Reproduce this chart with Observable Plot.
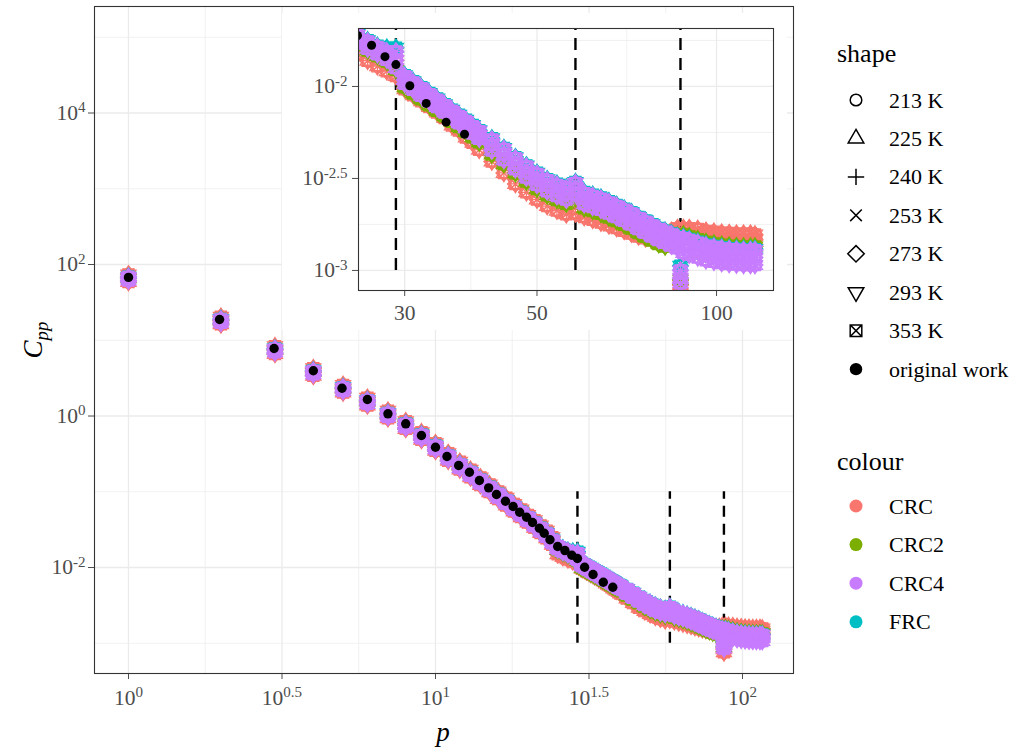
<!DOCTYPE html>
<html>
<head>
<meta charset="utf-8">
<script src="https://cdn.jsdelivr.net/npm/d3@7"></script>
<script src="https://cdn.jsdelivr.net/npm/@observablehq/plot@0.6"></script>
<style>
  html, body { margin: 0; padding: 0; background: #fff; }
  #wrap { position: relative; width: 1028px; height: 751px; overflow: hidden; background: #fff; }
  #main, #inset, #legend { position: absolute; }
  #main { left: 0; top: 0; }
  #inset { left: 282px; top: 13px; }
  #legend { left: 800px; top: 0; }
</style>
</head>
<body>
<div id="wrap"><div id="main"></div><div id="inset"></div><div id="legend"></div></div>
<script>
// ---------------- data (C_pp stored as log10 values) ----------------
const p = [1,2,3,4,5,6,7,8,9,10,11,12,13,14,15,16,17,18,19,20,21,22,23,24,25,26,27,28,29,30,31,32,33,34,35,36,37,38,39,40,42,44,46,48,50,52,54,56,58,60,62,64,66,68,70,72,74,76,78,80,82,84,86,87,88,90,93,96,99,102,105,108,111,114,116];

// CRC4 (upper edge / middle / lower edge of the band)
const logCrc4Hi = [1.835,1.275,0.885,0.595,0.375,0.205,0.035,-0.105,-0.25,-0.395,-0.525,-0.64,-0.745,-0.845,-0.94,-1.03,-1.115,-1.195,-1.27,-1.34,-1.41,-1.48,-1.55,-1.635,
  -1.72,-1.755,-1.785,-1.81,-1.81,-1.945,-1.978,-2.01,-2.042,-2.072,-2.102,-2.132,-2.16,-2.187,-2.216,-2.244,
  -2.288,-2.34,-2.39,-2.435,-2.475,-2.51,-2.535,-2.555,-2.525,-2.58,-2.595,-2.61,-2.63,-2.65,-2.67,-2.69,-2.715,-2.735,-2.755,-2.775,-2.79,-2.805,-2.82,
  -3.0,
  -2.825,-2.835,-2.85,-2.865,-2.873,-2.88,-2.885,-2.888,-2.89,-2.89,-2.89];
const logCrc4Mid = [1.82,1.26,0.87,0.58,0.36,0.19,0.02,-0.12,-0.265,-0.41,-0.54,-0.655,-0.76,-0.86,-0.955,-1.045,-1.13,-1.21,-1.285,-1.355,-1.425,-1.495,-1.565,-1.65,
  -1.74,-1.775,-1.805,-1.832,-1.858,-1.965,-1.998,-2.03,-2.062,-2.092,-2.122,-2.152,-2.18,-2.207,-2.236,-2.264,
  -2.318,-2.37,-2.42,-2.465,-2.505,-2.54,-2.565,-2.585,-2.555,-2.61,-2.625,-2.64,-2.66,-2.68,-2.7,-2.72,-2.745,-2.765,-2.785,-2.805,-2.82,-2.835,-2.85,
  -3.04,
  -2.865,-2.875,-2.89,-2.905,-2.913,-2.92,-2.925,-2.928,-2.93,-2.93,-2.93];
const logCrc4Lo = [1.79,1.23,0.84,0.55,0.33,0.16,-0.01,-0.15,-0.295,-0.44,-0.57,-0.685,-0.79,-0.89,-0.985,-1.075,-1.16,-1.24,-1.315,-1.385,-1.455,-1.525,-1.595,-1.68,
  -1.76,-1.795,-1.825,-1.855,-1.9,-1.985,-2.018,-2.05,-2.082,-2.112,-2.142,-2.172,-2.2,-2.227,-2.256,-2.284,
  -2.348,-2.4,-2.45,-2.495,-2.535,-2.57,-2.595,-2.615,-2.585,-2.64,-2.655,-2.67,-2.69,-2.71,-2.73,-2.75,-2.775,-2.795,-2.815,-2.835,-2.85,-2.865,-2.88,
  -3.07,
  -2.905,-2.915,-2.93,-2.945,-2.953,-2.96,-2.965,-2.968,-2.97,-2.97,-2.97];
// FRC
const logFrc = [1.84,1.28,0.89,0.6,0.38,0.21,0.04,-0.1,-0.245,-0.39,-0.52,-0.635,-0.74,-0.84,-0.935,-1.025,-1.11,-1.19,-1.265,-1.335,-1.405,-1.475,-1.545,-1.63,
  -1.714,-1.749,-1.779,-1.79,-1.79,-1.939,-1.972,-2.004,-2.036,-2.066,-2.096,-2.126,-2.154,-2.181,-2.21,-2.238,
  -2.282,-2.334,-2.384,-2.429,-2.469,-2.504,-2.529,-2.549,-2.519,-2.574,-2.589,-2.604,-2.624,-2.644,-2.664,-2.684,-2.709,-2.729,-2.749,-2.769,-2.784,-2.799,-2.814,
  -2.975,
  -2.819,-2.829,-2.844,-2.859,-2.867,-2.874,-2.879,-2.882,-2.884,-2.884,-2.884];
// CRC2
const logCrc2 = [1.82,1.26,0.87,0.58,0.36,0.19,0.02,-0.12,-0.265,-0.41,-0.54,-0.655,-0.76,-0.86,-0.955,-1.045,-1.13,-1.21,-1.285,-1.355,-1.425,-1.495,-1.565,-1.65,
  -1.77,-1.805,-1.835,-1.865,-1.91,-2.005,-2.038,-2.07,-2.102,-2.132,-2.162,-2.192,-2.22,-2.247,-2.276,-2.304,
  -2.37,-2.422,-2.472,-2.517,-2.557,-2.592,-2.617,-2.637,-2.607,-2.662,-2.677,-2.692,-2.712,-2.732,-2.752,-2.772,-2.797,-2.817,-2.837,-2.857,-2.87,-2.84,-2.81,
  -3.05,
  -2.805,-2.815,-2.83,-2.845,-2.853,-2.86,-2.865,-2.868,-2.87,-2.87,-2.87];
// CRC (upper / lower edge)
const logCrcHi = [1.87,1.31,0.92,0.63,0.41,0.24,0.07,-0.07,-0.215,-0.36,-0.49,-0.605,-0.71,-0.81,-0.905,-0.995,-1.08,-1.16,-1.235,-1.305,-1.375,-1.445,-1.515,-1.6,
  -1.74,-1.775,-1.805,-1.832,-1.858,-1.965,-1.998,-2.03,-2.062,-2.092,-2.122,-2.152,-2.18,-2.207,-2.236,-2.264,
  -2.318,-2.37,-2.42,-2.465,-2.505,-2.54,-2.565,-2.585,-2.555,-2.61,-2.625,-2.64,-2.66,-2.68,-2.7,-2.72,-2.745,-2.765,-2.785,-2.805,-2.8,-2.785,-2.77,
  -3.08,
  -2.77,-2.77,-2.775,-2.785,-2.79,-2.795,-2.797,-2.8,-2.8,-2.8,-2.805];
const logCrcLo = [1.77,1.21,0.82,0.53,0.31,0.14,-0.03,-0.17,-0.315,-0.46,-0.59,-0.705,-0.81,-0.91,-1.005,-1.095,-1.18,-1.26,-1.335,-1.405,-1.475,-1.545,-1.615,-1.7,
  -1.825,-1.86,-1.89,-1.917,-1.943,-2.015,-2.048,-2.08,-2.112,-2.142,-2.172,-2.212,-2.24,-2.277,-2.306,-2.344,
  -2.408,-2.47,-2.53,-2.575,-2.615,-2.65,-2.675,-2.695,-2.69,-2.71,-2.725,-2.74,-2.755,-2.77,-2.785,-2.8,-2.815,-2.825,-2.835,-2.845,-2.84,-2.835,-2.82,
  -3.12,
  -2.8,-2.8,-2.805,-2.815,-2.82,-2.825,-2.828,-2.83,-2.83,-2.83,-2.835];

// original work
const origP = [1,1.98,2.98,4,4.96,6,7,8,9,10,10.9,11.9,12.9,13.9,14.9,15.8,16.9,17.9,18.8,19.8,20.7,21.8,22.6,23.6,25,26.4,27.8,29,30.6,32.6,35.2,37.8];
const origLogC = [1.83,1.274,0.891,0.597,0.367,0.218,0.029,-0.103,-0.257,-0.412,-0.535,-0.653,-0.742,-0.851,-0.948,-1.036,-1.125,-1.195,-1.27,-1.336,-1.406,-1.481,-1.547,-1.634,-1.723,-1.776,-1.838,-1.881,-1.996,-2.092,-2.194,-2.26];

// dashed markers
const dashP = [29, 58, 87];
const dashLogC = [-3, -1];

// categories
const seriesNames = ["CRC", "CRC2", "CRC4", "FRC"];
const seriesColours = ["#F8766D", "#7CAE00", "#C77CFF", "#00BFC4"];
const tempLabels = ["213 K", "225 K", "240 K", "253 K", "273 K", "293 K", "353 K"];

// ticks
const xMajor = [1, 3.16228, 10, 31.6228, 100];
const xMajorExp = ["0", "0.5", "1", "1.5", "2"];
const xMinor = [1.77828, 5.62341, 17.7828, 56.2341];
const yMajor = [-2, 0, 2, 4];
const yMinor = [-3, -1, 1, 3, 5];
const inXMajor = [30, 50, 100];
const inXMinor = [38.7298, 70.7107];
const inYMajor = [-3, -2.5, -2];
const inYMinor = [-2.75, -2.25, -1.75];

// ---------------- symbols (ggplot shapes 1..7) ----------------
function mk(fn) { return {draw(c, size) { fn(c, Math.sqrt(size / Math.PI)); }}; }
const shapeSymbols = [
  mk((c, r) => { c.moveTo(r, 0); c.arc(0, 0, r, 0, 2 * Math.PI); }),
  mk((c, r) => { c.moveTo(0, -1.555 * r); c.lineTo(1.347 * r, 0.778 * r); c.lineTo(-1.347 * r, 0.778 * r); c.closePath(); }),
  mk((c, r) => { const a = 1.414 * r; c.moveTo(-a, 0); c.lineTo(a, 0); c.moveTo(0, -a); c.lineTo(0, a); }),
  mk((c, r) => { c.moveTo(-r, -r); c.lineTo(r, r); c.moveTo(-r, r); c.lineTo(r, -r); }),
  mk((c, r) => { const a = 1.414 * r; c.moveTo(0, -a); c.lineTo(a, 0); c.lineTo(0, a); c.lineTo(-a, 0); c.closePath(); }),
  mk((c, r) => { c.moveTo(0, 1.555 * r); c.lineTo(1.347 * r, -0.778 * r); c.lineTo(-1.347 * r, -0.778 * r); c.closePath(); }),
  mk((c, r) => { c.rect(-r, -r, 2 * r, 2 * r); c.moveTo(-r, -r); c.lineTo(r, r); c.moveTo(-r, r); c.lineTo(r, -r); })
];

const FONT = "'Liberation Serif', 'Times New Roman', serif";
const R = 5.6;

const seriesDefs = [
  {series: "CRC", levels: [logCrcHi, logCrcLo]},
  {series: "CRC2", levels: [logCrc2]},
  {series: "FRC", levels: [logFrc]},
  {series: "CRC4", levels: [logCrc4Hi, logCrc4Lo, logCrc4Mid]}
];

function dotMarks(minP, extra) {
  const marks = [];
  for (const s of seriesDefs) for (const lvl of s.levels) {
    const rows = p.map((pv, i) => ({p: pv, logC: lvl[i], series: s.series})).filter(d => d.p >= minP);
    shapeSymbols.forEach((sym) => {
      marks.push(Plot.dot(rows, {x: "p", y: "logC", stroke: "series", fill: "none", symbol: sym, r: R, strokeWidth: 1.25, ...extra}));
    });
  }
  return marks;
}
const origRows = origP.map((pv, i) => ({p: pv, logC: origLogC[i]}));

function supify(svg) {
  d3.select(svg).selectAll("text").each(function () {
    const m = /^10\^(.+)$/.exec(this.textContent);
    if (!m) return;
    const sel = d3.select(this);
    sel.text(null);
    sel.append("tspan").text("10");
    sel.append("tspan").attr("dy", "-0.52em").attr("font-size", "0.7em").text(m[1]);
  });
}

// ---------------- main plot ----------------
const main = Plot.plot({
  width: 1028, height: 751,
  marginLeft: 94, marginRight: 235, marginTop: 6, marginBottom: 78,
  style: {fontFamily: FONT, fontSize: "21.5px", color: "#4D4D4D", background: "white"},
  x: {type: "log", domain: [0.775, 146.6], ticks: xMajor, tickFormat: d => "10^" + xMajorExp[xMajor.indexOf(d)], tickSize: 6, tickPadding: 10, label: null},
  y: {domain: [-3.399, 5.406], ticks: yMajor, tickFormat: d => "10^" + d, tickSize: 6, tickPadding: 3, label: null},
  color: {domain: seriesNames, range: seriesColours},
  marks: [
    Plot.ruleX(xMinor, {stroke: "#EBEBEB", strokeWidth: 0.7}),
    Plot.ruleY(yMinor, {stroke: "#EBEBEB", strokeWidth: 0.7}),
    Plot.ruleX(xMajor, {stroke: "#EBEBEB", strokeWidth: 1.3}),
    Plot.ruleY(yMajor, {stroke: "#EBEBEB", strokeWidth: 1.3}),
    Plot.ruleX(dashP, {y1: dashLogC[0], y2: dashLogC[1], stroke: "black", strokeWidth: 2.4, strokeDasharray: "11,7"}),
    ...dotMarks(0, {}),
    Plot.dot(origRows, {x: "p", y: "logC", r: 4.7, fill: "black", stroke: "none"}),
    Plot.frame({stroke: "#333333", strokeWidth: 1.1})
  ]
});
document.getElementById("main").appendChild(main);
supify(main);
const ms = d3.select(main);
ms.append("text").attr("x", 443).attr("y", 741).attr("text-anchor", "middle")
  .attr("font-family", FONT).attr("font-size", 27).attr("font-style", "italic").attr("fill", "black").text("p");
const yt = ms.append("text").attr("transform", "translate(42,340) rotate(-90)").attr("text-anchor", "middle")
  .attr("font-family", FONT).attr("font-size", 27).attr("font-style", "italic").attr("fill", "black");
yt.append("tspan").text("C");
yt.append("tspan").attr("dy", "0.3em").attr("font-size", "0.7em").text("pp");

// ---------------- inset ----------------
const inset = Plot.plot({
  width: 505, height: 317,
  marginLeft: 76, marginRight: 14, marginTop: 15, marginBottom: 40,
  style: {fontFamily: FONT, fontSize: "21.5px", color: "#4D4D4D", background: "white"},
  x: {type: "log", domain: [25.1, 124.6], ticks: inXMajor, tickFormat: d => String(d), tickSize: 6, tickPadding: 8, label: null},
  y: {domain: [-3.109, -1.685], ticks: inYMajor, tickFormat: d => "10^" + d, tickSize: 6, tickPadding: 5, label: null},
  color: {domain: seriesNames, range: seriesColours},
  marks: [
    Plot.ruleX(inXMinor, {stroke: "#EBEBEB", strokeWidth: 0.7}),
    Plot.ruleY(inYMinor, {stroke: "#EBEBEB", strokeWidth: 0.7}),
    Plot.ruleX(inXMajor, {stroke: "#EBEBEB", strokeWidth: 1.3}),
    Plot.ruleY(inYMajor, {stroke: "#EBEBEB", strokeWidth: 1.3}),
    Plot.ruleX(dashP, {y1: dashLogC[0], y2: dashLogC[1], stroke: "black", strokeWidth: 2.4, strokeDasharray: "12,8", clip: true}),
    ...dotMarks(24, {clip: true}),
    Plot.dot(origRows.filter(d => d.p >= 24), {x: "p", y: "logC", r: 4.5, fill: "black", stroke: "none", clip: true}),
    Plot.frame({stroke: "#333333", strokeWidth: 1.1})
  ]
});
document.getElementById("inset").appendChild(inset);
supify(inset);

// ---------------- legend ----------------
const lg = d3.select("#legend").append("svg").attr("width", 228).attr("height", 751)
  .attr("font-family", FONT);
lg.append("text").attr("x", 37).attr("y", 62).attr("font-size", 26).attr("fill", "black").text("shape");
const shapeLabels = tempLabels.concat(["original work"]);
shapeLabels.forEach((t, i) => {
  const cy = 100 + i * 38.45;
  if (i < shapeSymbols.length) {
    const ctx = d3.path();
    shapeSymbols[i].draw(ctx, Math.PI * 5.8 * 5.8);
    lg.append("path").attr("d", ctx.toString()).attr("transform", `translate(56,${cy})`)
      .attr("fill", "none").attr("stroke", "black").attr("stroke-width", 1.5);
  } else {
    lg.append("circle").attr("cx", 56).attr("cy", cy).attr("r", 6.2).attr("fill", "black");
  }
  lg.append("text").attr("x", 89).attr("y", cy + 7.5).attr("font-size", 22).attr("fill", "black").text(t);
});
lg.append("text").attr("x", 37).attr("y", 470).attr("font-size", 26).attr("fill", "black").text("colour");
const colourOrder = ["CRC", "CRC2", "CRC4", "FRC"];
colourOrder.forEach((n, i) => {
  const cy = 506 + i * 38.6;
  lg.append("circle").attr("cx", 56).attr("cy", cy).attr("r", 6.5).attr("fill", seriesColours[seriesNames.indexOf(n)]);
  lg.append("text").attr("x", 89).attr("y", cy + 7.5).attr("font-size", 22).attr("fill", "black").text(n);
});
</script>
</body>
</html>
